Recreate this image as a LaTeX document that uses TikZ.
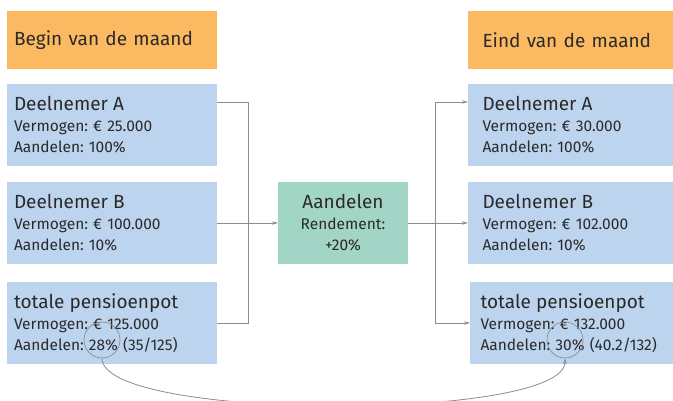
\documentclass[tikz,border=0pt]{standalone}
\usepackage{fontspec}
\setmainfont{Fira Sans}
\usetikzlibrary{arrows.meta,positioning,calc}
\definecolor{headorange}{HTML}{FBBA62}
\definecolor{boxblue}{HTML}{BDD4EE}
\definecolor{boxgreen}{HTML}{A3D5C6}
\definecolor{linegray}{HTML}{8C8C8C}
\definecolor{txtgray}{HTML}{2A2A2A}
\newcommand{\bigline}[1]{{\fontsize{19}{21}\selectfont #1}}
\frenchspacing

\begin{document}
\begin{tikzpicture}[x=1pt, y=-1pt, text=txtgray, font=\fontsize{15.5}{21}\selectfont, head/.style={fill=headorange, minimum width=210pt, minimum height=58pt, text width=196pt, align=left, inner xsep=7pt, outer sep=0pt, font=\fontsize{19}{23}\selectfont}, box/.style={fill=#1, minimum width=210pt, minimum height=82pt, text width=196pt, align=left, inner xsep=7pt, inner ysep=0pt, outer sep=0pt}, box/.default=boxblue, conn/.style={draw=linegray, line width=0.8pt}, arr/.style={conn, -{Stealth[length=6pt, width=3.5pt]}}, ring/.style={circle, draw=linegray, line width=0.7pt, minimum size=36pt, inner sep=0pt}]
\useasboundingbox (0,0) rectangle (673,401);
% begin van de maand
\node[head, anchor=north west] (lhead) at (7,11) {Begin van de maand};
\node[box, below=15pt of lhead] (lA) {\bigline{Deelnemer A}\\Vermogen: € 25.000\\Aandelen: 100\%};
\node[box, below=16pt of lA] (lB) {\bigline{Deelnemer B}\\Vermogen: € 100.000\\Aandelen: 10\%};
\node[box, below=18pt of lB] (ltot) {\bigline{totale pensioenpot}\\Vermogen: € 125.000\\Aandelen: 28\% (35/125)};
% rendement
\node[box=boxgreen, right=61pt of lB, minimum width=130pt, text width=116pt, align=center] (mid) {\bigline{Aandelen}\\Rendement:\\+20\%};
% eind van de maand
\node[head, anchor=north west, text width=181pt, inner xsep=12pt] (rhead) at (468,11) {Eind van de maand};
\node[box, right=251pt of lA, text width=181pt, inner xsep=12pt] (rA) {\bigline{Deelnemer A}\\Vermogen: € 30.000\\Aandelen: 100\%};
\node[box, right=251pt of lB, text width=181pt, inner xsep=12pt] (rB) {\bigline{Deelnemer B}\\Vermogen: € 102.000\\Aandelen: 10\%};
\node[box, right=253pt of ltot, text width=189pt] (rtot) {\bigline{totale pensioenpot}\\Vermogen: € 132.000\\Aandelen: 30\% (40.2/132)};
\coordinate (lsplit) at ($(lB.east)+(31,0)$);
\coordinate (rsplit) at ($(mid.east)+(27,0)$);
\draw[conn] ([yshift=-18pt]lA.north east) -| (lsplit);
\draw[conn] (ltot.east) -| (lsplit);
\draw[arr] (lB.east) -- (mid.west);
\draw[conn] (mid.east) -- (rsplit);
\draw[arr] (rsplit) |- ([yshift=-18pt]rA.north west);
\draw[arr] (rsplit) -- (rB.west);
\draw[arr] (rsplit) |- (rtot.west);
% aandelen percentage
\node[ring] (lring) at (102,340) {};
\node[ring] (rring) at (565,340) {};
\draw[arr] (lring.south) .. controls +(0,63) and +(0,63) .. (rring.south);
\end{tikzpicture}
\end{document}
